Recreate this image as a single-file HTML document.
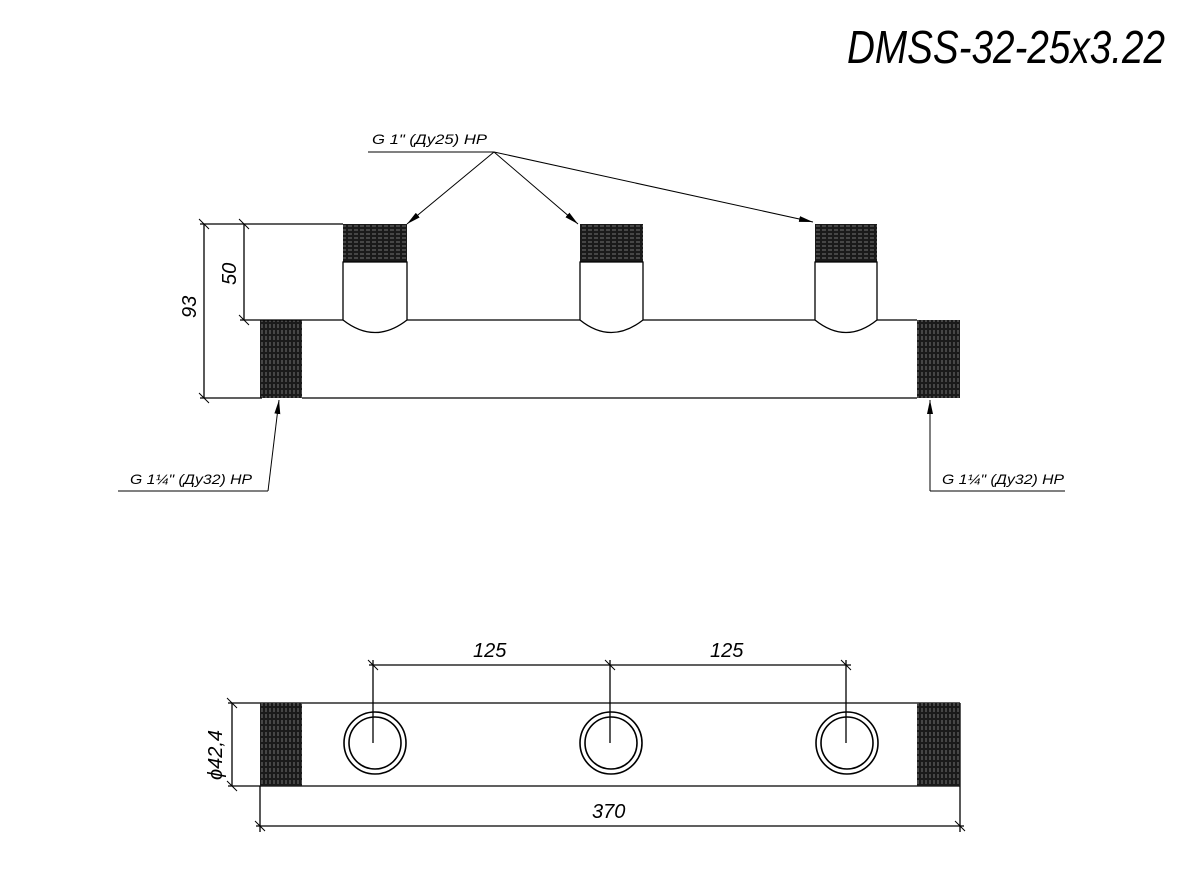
<!DOCTYPE html>
<html><head><meta charset="utf-8"><style>
html,body{margin:0;padding:0;background:#fff;}
svg{display:block}
text{font-family:"Liberation Sans",sans-serif;font-style:italic;fill:#000;}
</style></head><body>
<svg width="1200" height="872" viewBox="0 0 1200 872" xmlns="http://www.w3.org/2000/svg">
<defs>
<pattern id="vt" width="4" height="6" patternUnits="userSpaceOnUse">
<rect width="4" height="6" fill="#1a1a1a"/><line x1="2" y1="0" x2="2" y2="4" stroke="#999" stroke-width="0.7"/>
</pattern>
<pattern id="ht" width="6" height="4" patternUnits="userSpaceOnUse">
<rect width="6" height="4" fill="#1a1a1a"/><line x1="0" y1="2" x2="4" y2="2" stroke="#999" stroke-width="0.7"/>
</pattern>
<marker id="ar" markerWidth="14" markerHeight="6" refX="14" refY="3" orient="auto" markerUnits="userSpaceOnUse">
<path d="M0,0 L14,3 L0,6 z" fill="#000"/></marker>
</defs>
<g stroke="#000" stroke-width="1.3" fill="none">
<text x="847" y="63" font-size="46" textLength="318" lengthAdjust="spacingAndGlyphs" stroke="none">DMSS-32-25x3.22</text>

<!-- top view -->
<line x1="302" y1="320" x2="917" y2="320"/>
<line x1="302" y1="398" x2="917" y2="398"/>
<rect x="260" y="320" width="42" height="78" fill="url(#vt)" stroke="none"/>
<rect x="917" y="320" width="43" height="78" fill="url(#vt)" stroke="none"/>
<line x1="200" y1="398" x2="262" y2="398"/>
<line x1="204" y1="224" x2="204" y2="398"/>
<line x1="200" y1="224" x2="343" y2="224"/>
<line x1="244" y1="224" x2="244" y2="320"/>
<line x1="240" y1="320" x2="302" y2="320"/>
<g stroke-width="1">
<line x1="199" y1="219" x2="209" y2="229"/><line x1="199" y1="393" x2="209" y2="403"/>
<line x1="239" y1="219" x2="249" y2="229"/><line x1="239" y1="315" x2="249" y2="325"/>
</g>
<text x="0" y="0" font-size="20" stroke="none" transform="translate(196,318) rotate(-90)">93</text>
<text x="0" y="0" font-size="20" stroke="none" transform="translate(236,285) rotate(-90)">50</text>

<g>
<rect x="343" y="224" width="64" height="38" fill="url(#ht)" stroke="none"/>
<path d="M343,262 V320 Q375,345 407,320 V262 Z" fill="#fff"/>
<rect x="580" y="224" width="63" height="38" fill="url(#ht)" stroke="none"/>
<path d="M580,262 V320 Q611,345 643,320 V262 Z" fill="#fff"/>
<rect x="815" y="224" width="62" height="38" fill="url(#ht)" stroke="none"/>
<path d="M815,262 V320 Q846,345 877,320 V262 Z" fill="#fff"/>
</g>

<text x="372" y="144" font-size="14" stroke="none" textLength="115" lengthAdjust="spacingAndGlyphs">G 1" (Ду25) НР</text>
<line x1="368" y1="152" x2="494" y2="152" stroke-width="1"/>
<g stroke-width="1">
<line x1="494" y1="152" x2="407" y2="224" marker-end="url(#ar)"/>
<line x1="494" y1="152" x2="578" y2="224" marker-end="url(#ar)"/>
<line x1="494" y1="152" x2="813" y2="222" marker-end="url(#ar)"/>
<line x1="118" y1="491" x2="268" y2="491"/>
<line x1="268" y1="491" x2="279" y2="400" marker-end="url(#ar)"/>
<line x1="930" y1="491" x2="1065" y2="491"/>
<line x1="930" y1="491" x2="930" y2="400" marker-end="url(#ar)"/>
</g>
<text x="130" y="484" font-size="14" stroke="none" textLength="122" lengthAdjust="spacingAndGlyphs">G 1¼" (Ду32) НР</text>
<text x="942" y="484" font-size="14" stroke="none" textLength="122" lengthAdjust="spacingAndGlyphs">G 1¼" (Ду32) НР</text>

<!-- bottom view -->
<line x1="228" y1="703" x2="960" y2="703"/>
<line x1="228" y1="786" x2="960" y2="786"/>
<line x1="960" y1="703" x2="960" y2="786"/>
<rect x="260" y="703" width="42" height="83" fill="url(#vt)" stroke="none"/>
<rect x="917" y="703" width="43" height="83" fill="url(#vt)" stroke="none"/>
<line x1="232" y1="703" x2="232" y2="786"/>
<g stroke-width="1">
<line x1="227" y1="698" x2="237" y2="708"/><line x1="227" y1="781" x2="237" y2="791"/>
<line x1="255" y1="821" x2="265" y2="831"/><line x1="955" y1="821" x2="965" y2="831"/>
<line x1="368" y1="660" x2="378" y2="670"/><line x1="605" y1="660" x2="615" y2="670"/><line x1="841" y1="660" x2="851" y2="670"/>
</g>
<text x="0" y="0" font-size="20" stroke="none" transform="translate(222,780) rotate(-90)">ϕ42,4</text>
<line x1="260" y1="786" x2="260" y2="832"/>
<line x1="960" y1="786" x2="960" y2="832"/>
<line x1="256" y1="826" x2="964" y2="826"/>
<text x="592" y="818" font-size="20" stroke="none">370</text>
<line x1="369" y1="665" x2="851" y2="665"/>
<line x1="373" y1="660" x2="373" y2="743"/>
<line x1="610" y1="660" x2="610" y2="743"/>
<line x1="846" y1="660" x2="846" y2="743"/>
<text x="473" y="657" font-size="20" stroke="none">125</text>
<text x="710" y="657" font-size="20" stroke="none">125</text>
<g stroke-width="1.6">
<circle cx="375" cy="743" r="31"/><circle cx="375" cy="743" r="26"/>
<circle cx="611" cy="743" r="31"/><circle cx="611" cy="743" r="26"/>
<circle cx="847" cy="743" r="31"/><circle cx="847" cy="743" r="26"/>
</g>
</g>
</svg>
</body></html>
